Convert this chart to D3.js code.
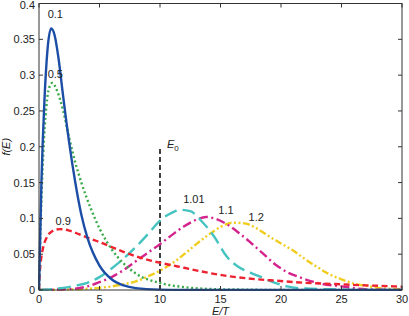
<!DOCTYPE html>
<html>
<head>
<meta charset="utf-8">
<script src="https://cdn.jsdelivr.net/npm/d3@7"></script>
<style>
  html, body { margin: 0; padding: 0; background: #fff; }
  svg { display: block; font-family: "Liberation Sans", Arial, sans-serif; }
  .tick-label { font-size: 11px; fill: #222; }
  .curve-label { font-size: 11px; fill: #222; }
</style>
</head>
<body>
<svg id="chart" width="409" height="316"></svg>
<script>
// values
const xTicks = [0, 5, 10, 15, 20, 25, 30];
const yTicks = [0, 0.05, 0.1, 0.15, 0.2, 0.25, 0.3, 0.35, 0.4];
const E0 = 10;
const E0_TOP = 0.2;

const q01E = [0, 0.2, 0.45, 0.7, 1.0, 1.3, 1.6, 2.0, 2.5, 3.0, 3.5, 4.0, 5.0, 6.0, 7.0, 8.0, 10, 12, 15, 20, 30];
const q01F = [0, 0.15, 0.265, 0.335, 0.365, 0.355, 0.325, 0.27, 0.205, 0.15, 0.105, 0.073, 0.034, 0.015, 0.0064, 0.0027, 0.0005, 0.0001, 0, 0, 0];

const q05E = [0, 0.15, 0.35, 0.6, 0.85, 1.1, 1.5, 2.0, 2.5, 3.0, 3.5, 4.3, 5.0, 6.0, 7.0, 8.0, 10.2, 12, 14, 17, 20, 30];
const q05F = [0, 0.1, 0.19, 0.255, 0.283, 0.289, 0.278, 0.25, 0.212, 0.178, 0.15, 0.113, 0.086, 0.057, 0.037, 0.023, 0.009, 0.004, 0.0015, 0.0005, 0, 0];

const q09E = [0, 0.05, 0.15, 0.3, 0.6, 1.0, 1.7, 2.5, 3.3, 4.2, 5, 6, 7.5, 9, 10.3, 12, 14, 15.8, 18, 19.6, 22, 24.3, 27, 30];
const q09F = [0, 0.02, 0.04, 0.056, 0.072, 0.081, 0.085, 0.083, 0.078, 0.072, 0.067, 0.06, 0.05, 0.042, 0.037, 0.031, 0.024, 0.019, 0.015, 0.013, 0.01, 0.0084, 0.0065, 0.0047];

const q101E = [0, 1, 2, 3, 4, 5, 6, 7, 8, 9, 10, 11, 11.7, 12.5, 13.5, 14.5, 15.5, 16.5, 17.5, 18.5, 19.5, 20.5, 22, 24, 27, 30];
const q101F = [0, 0.001, 0.003, 0.006, 0.01, 0.018, 0.03, 0.044, 0.06, 0.078, 0.097, 0.108, 0.112, 0.11, 0.095, 0.074, 0.047, 0.032, 0.024, 0.017, 0.01, 0.005, 0.002, 0.001, 0, 0];

const q11E = [0, 2, 3, 4, 5, 6, 7, 8, 9, 10, 11, 12, 13, 13.8, 14.5, 15.5, 16.5, 17.5, 18.5, 19.5, 20.5, 21.5, 23, 25, 27, 30];
const q11F = [0, 0.001, 0.002, 0.005, 0.011, 0.018, 0.028, 0.04, 0.052, 0.064, 0.077, 0.089, 0.098, 0.102, 0.1, 0.092, 0.08, 0.066, 0.051, 0.036, 0.025, 0.018, 0.01, 0.005, 0.001, 0];

const q12E = [0, 3, 5, 6, 7, 8, 9, 10, 11, 12, 13, 14, 15, 16, 17, 18, 19, 20, 21, 22, 23, 24, 25, 26, 27, 28, 30];
const q12F = [0, 0.001, 0.003, 0.005, 0.008, 0.012, 0.019, 0.027, 0.037, 0.05, 0.064, 0.077, 0.088, 0.094, 0.093, 0.086, 0.075, 0.065, 0.055, 0.043, 0.032, 0.022, 0.015, 0.009, 0.006, 0.003, 0.001];

const series = [
  { name: '0.1', E: q01E, F: q01F, color: '#1c4ea6', dash: null, lx: 1.35, ly: 0.38 },
  { name: '0.5', E: q05E, F: q05F, color: '#3aaa48', dash: '2,2.6', lx: 1.35, ly: 0.296 },
  { name: '0.9', E: q09E, F: q09F, color: '#ee2331', dash: '6,3.5', lx: 2.0, ly: 0.091 },
  { name: '1.01', E: q101E, F: q101F, color: '#45c3c0', dash: '13,6', lx: 12.8, ly: 0.122 },
  { name: '1.1', E: q11E, F: q11F, color: '#d5238e', dash: '9,3.5,2,3.5', lx: 15.45, ly: 0.106 },
  { name: '1.2', E: q12E, F: q12F, color: '#f0cc1e', dash: '7,2.5,2,2.5,2,2.5', lx: 17.95, ly: 0.096 }
];

const MARGIN = { top: 3.5, right: 7, bottom: 26, left: 39 };
const W = 409, H = 316;
const innerW = W - MARGIN.left - MARGIN.right;
const innerH = H - MARGIN.top - MARGIN.bottom;

const svg = d3.select('#chart');
const g = svg.append('g').attr('transform', `translate(${MARGIN.left},${MARGIN.top})`);

const x = d3.scaleLinear().domain([0, 30]).range([0, innerW]);
const y = d3.scaleLinear().domain([0, 0.4]).range([innerH, 0]);

svg.append('defs').append('clipPath').attr('id', 'plotClip')
  .append('rect').attr('x', -1).attr('y', -1).attr('width', innerW + 2).attr('height', innerH + 2);

// E0 marker line
g.append('line')
  .attr('x1', x(E0)).attr('x2', x(E0))
  .attr('y1', y(0)).attr('y2', y(E0_TOP))
  .attr('stroke', '#111').attr('stroke-width', 1.6).attr('stroke-dasharray', '5,3');

const eLab = g.append('text').attr('x', x(E0) + 7).attr('y', y(E0_TOP) + 1.5)
  .attr('font-size', 11).attr('fill', '#222');
eLab.append('tspan').attr('font-style', 'italic').text('E');
eLab.append('tspan').attr('font-size', 8).attr('dy', 2.5).text('0');

const line = d3.line()
  .x((d) => x(d[0]))
  .y((d) => y(d[1]))
  .curve(d3.curveMonotoneX);

const linesG = g.append('g').attr('clip-path', 'url(#plotClip)');
series.slice().reverse().forEach((s) => {
  const pts = s.E.map((e, i) => [e, s.F[i]]);
  linesG.append('path')
    .datum(pts)
    .attr('fill', 'none')
    .attr('stroke', s.color)
    .attr('stroke-width', 2.4)
    .attr('stroke-dasharray', s.dash)
    .attr('stroke-linejoin', 'round')
    .attr('d', line);
});

series.forEach((s) => {
  g.append('text').attr('class', 'curve-label')
    .attr('x', x(s.lx)).attr('y', y(s.ly))
    .attr('text-anchor', 'middle')
    .text(s.name);
});

// frame + inward ticks (all four sides)
const TICK = 4;
const axG = g.append('g').attr('stroke', '#333').attr('stroke-width', 1);
axG.append('rect').attr('x', 0).attr('y', 0).attr('width', innerW).attr('height', innerH)
  .attr('fill', 'none');
xTicks.forEach((t) => {
  axG.append('line').attr('x1', x(t)).attr('x2', x(t)).attr('y1', innerH).attr('y2', innerH - TICK);
  axG.append('line').attr('x1', x(t)).attr('x2', x(t)).attr('y1', 0).attr('y2', TICK);
});
yTicks.forEach((t) => {
  axG.append('line').attr('x1', 0).attr('x2', TICK).attr('y1', y(t)).attr('y2', y(t));
  axG.append('line').attr('x1', innerW).attr('x2', innerW - TICK).attr('y1', y(t)).attr('y2', y(t));
});

g.selectAll('text.xt').data(xTicks).enter().append('text')
  .attr('class', 'tick-label xt')
  .attr('x', (d) => x(d)).attr('y', innerH + 13)
  .attr('text-anchor', 'middle')
  .text((d) => d);

g.selectAll('text.yt').data(yTicks).enter().append('text')
  .attr('class', 'tick-label yt')
  .attr('x', -4).attr('y', (d) => Math.max(y(d) + 4, 5))
  .attr('text-anchor', 'end')
  .text((d) => d);

g.append('text').attr('class', 'tick-label')
  .attr('x', innerW / 2).attr('y', innerH + 24.5)
  .attr('text-anchor', 'middle').attr('font-style', 'italic')
  .text('E/T');

svg.append('text').attr('class', 'tick-label')
  .attr('transform', `translate(10,${MARGIN.top + y(0.2)}) rotate(-90)`)
  .attr('text-anchor', 'middle').attr('font-style', 'italic')
  .text('f(E)');
</script>
</body>
</html>
